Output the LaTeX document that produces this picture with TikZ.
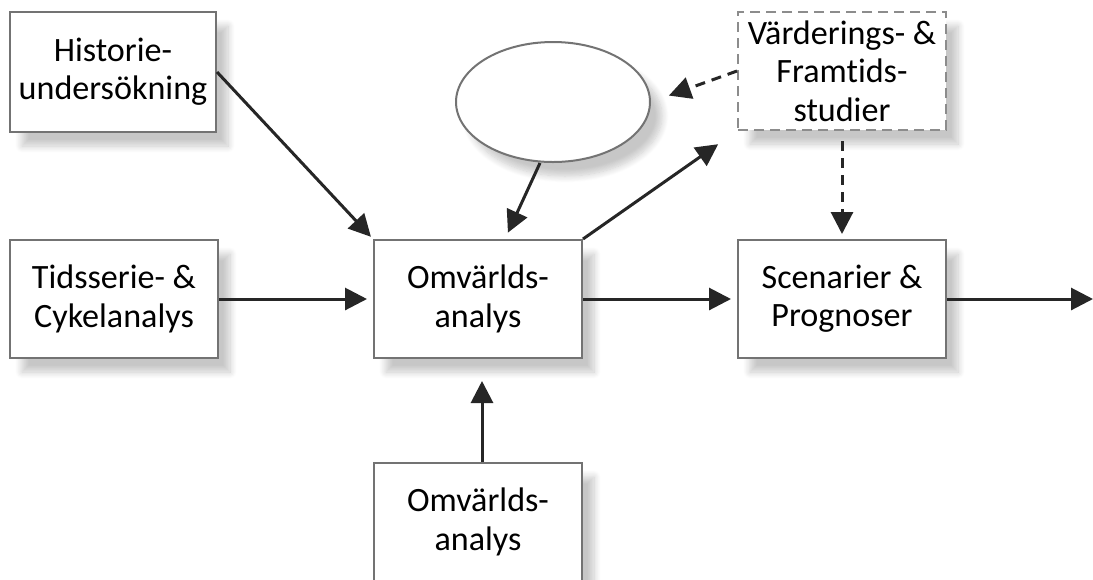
\documentclass[tikz,border=0pt]{standalone}
\usepackage{fontspec}
\setmainfont[Ligatures=NoCommon]{Carlito}
\usepackage{tikz}
\usetikzlibrary{positioning, calc}
\usetikzlibrary{arrows.meta,shapes.geometric,shadows.blur}

\begin{document}
\begin{tikzpicture}[x=0.1mm,y=-0.1mm,
    kasten/.style={draw=black!55, line width=0.2mm, fill=white, minimum width=20.8mm, minimum height=11.8mm,
        inner sep=1pt, align=center, font=\fontsize{9.7}{10.9}\selectfont, blur shadow={shadow blur steps=10, shadow xshift=1.2mm, shadow yshift=-1.4mm, shadow opacity=22}},
    pfeil/.style={line width=0.3mm, black!85, -{Triangle[length=2.2mm,width=2.2mm]}},
    strich/.style={pfeil, dash pattern=on 1mm off 0.7mm}]
    \useasboundingbox (0,0) rectangle (1093,579);
    \clip (0,0) rectangle (1093,579);
    % Kaesten
    \node[kasten, minimum width=20.6mm, minimum height=12mm] (hist) at (113,72) {Historie-\\undersökning};
    \node[kasten] (tids) at (114,299) {Tidsserie- \&\\Cykelanalys};
    \node[kasten] (omv) at (478,299) {Omvärlds-\\analys};
    \node[kasten] (scen) at (842,299) {Scenarier \&\\Prognoser};
    \node[kasten, draw=black!45, dash pattern=on 1mm off 0.6mm] (varder) at (842,71) {Värderings- \&\\Framtids-\\studier};
    \node[kasten] (omvu) at (478,522) {Omvärlds-\\analys};
    \node[kasten, ellipse, minimum width=19.4mm, minimum height=12mm] (ell) at (553,102) {};
    \coordinate (ut) at (1093,299);
    % Pfeile
    \draw[pfeil, shorten >=0.3mm] (hist.east) -- (omv.north west);
    \draw[pfeil, shorten >=0.6mm] (tids.east) -- (omv.west);
    \draw[pfeil, shorten >=0.7mm] (ell.south) ++(-13,0) -- ([xshift=2.7mm]omv.north);
    \draw[pfeil, shorten >=2.3mm] (omv.north east) -- (varder.south west);
    \draw[strich, shorten >=1.9mm] (varder.west) -- (ell.east);
    \draw[strich, shorten <=1mm, shorten >=0.5mm] (varder.south) -- (scen.north);
    \draw[pfeil, shorten >=0.6mm] (omv.east) -- (scen.west);
    \draw[pfeil] (scen.east) -- (ut);
    \draw[pfeil, shorten >=2.2mm] ([xshift=0.4mm]omvu.north) -- ([xshift=0.4mm]omv.south);
\end{tikzpicture}
\end{document}
